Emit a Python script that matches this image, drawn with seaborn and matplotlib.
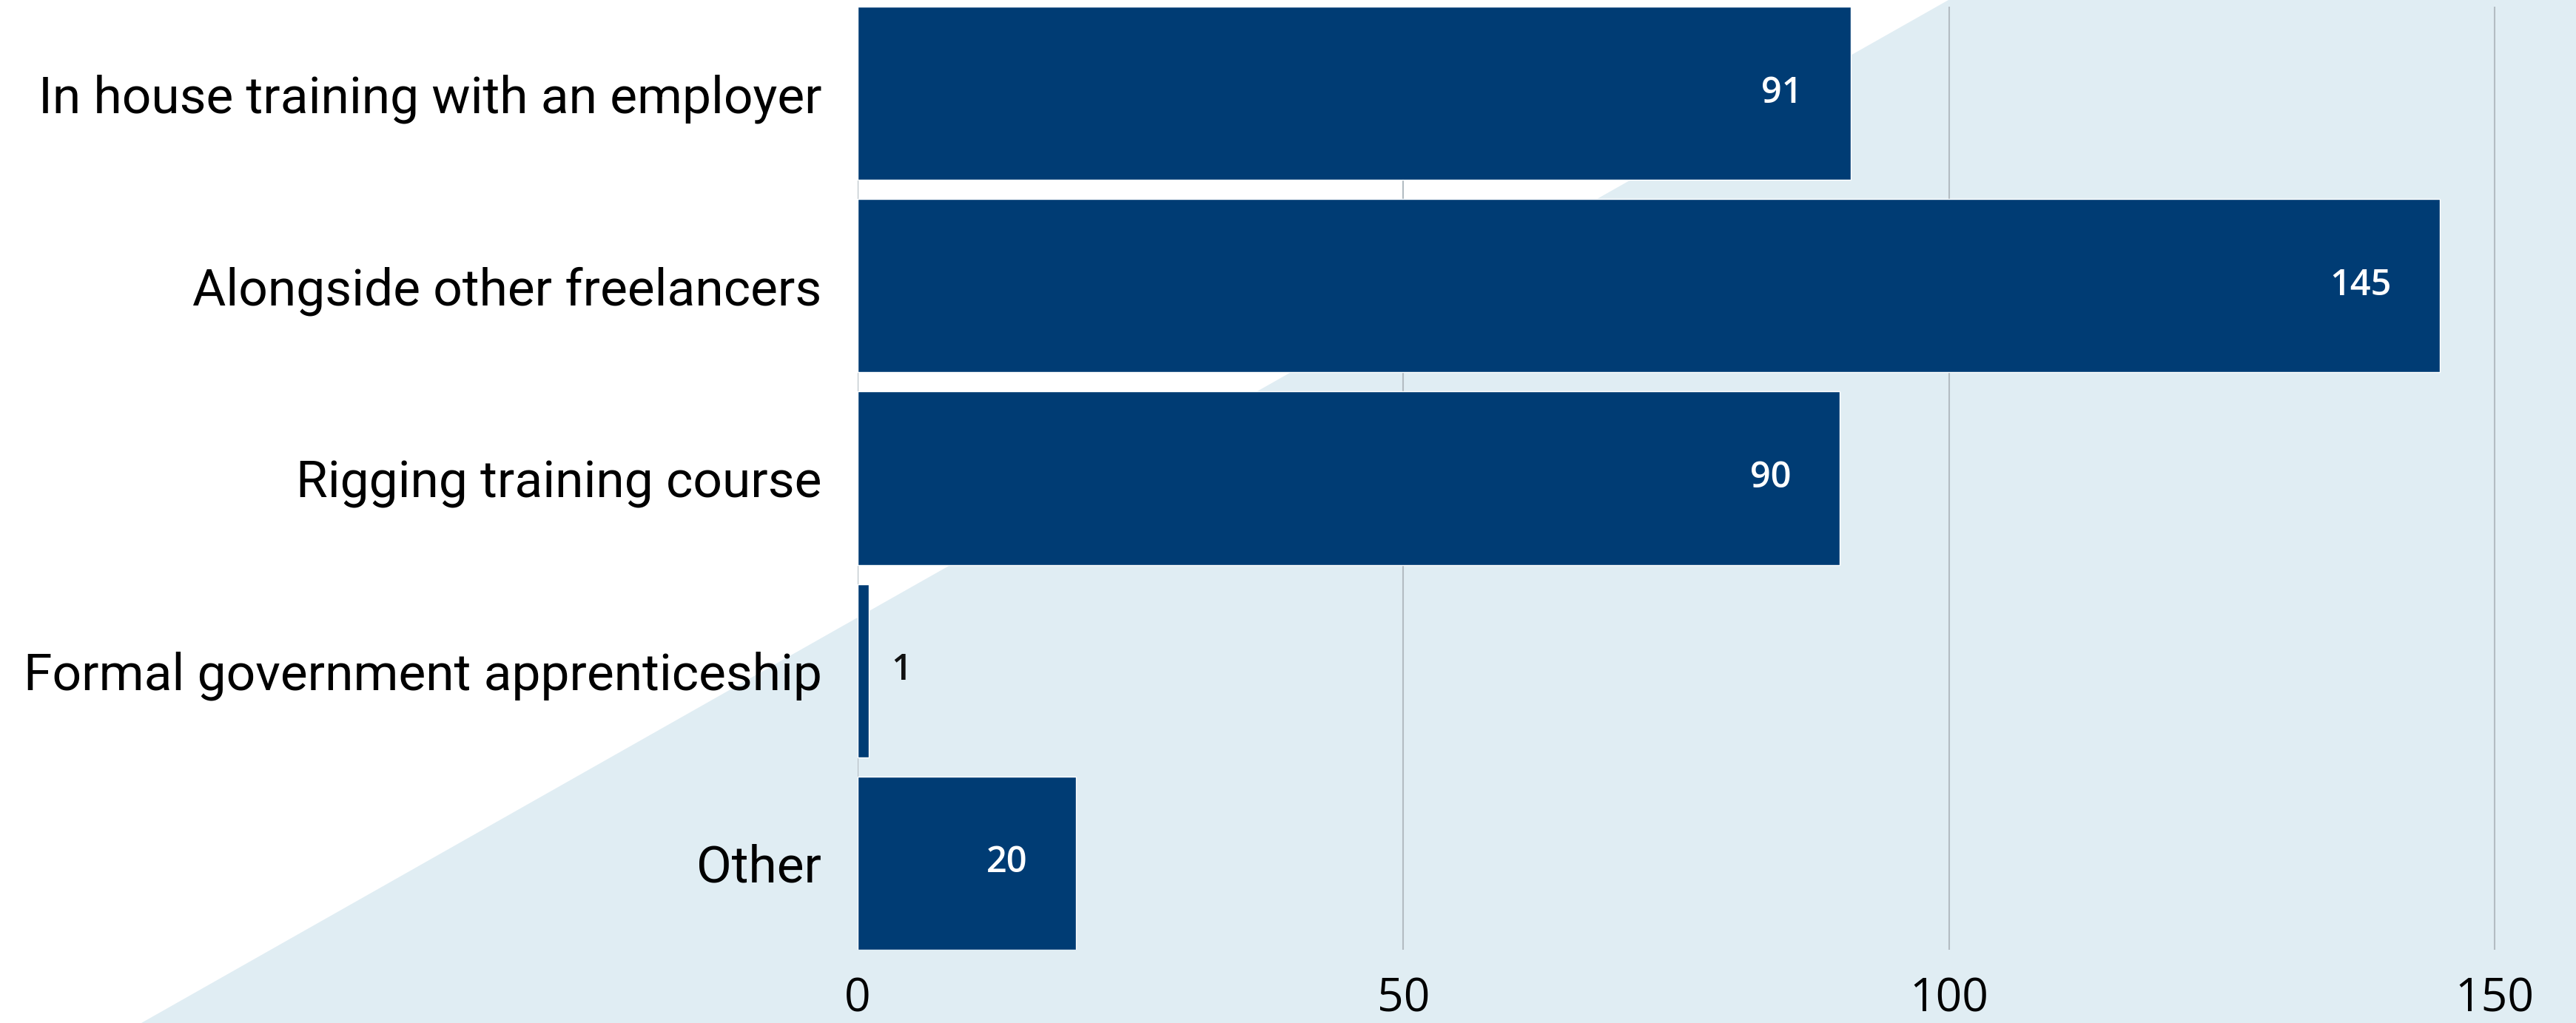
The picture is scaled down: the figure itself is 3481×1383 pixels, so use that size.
import matplotlib
matplotlib.use("Agg")
import matplotlib.pyplot as plt
from matplotlib.patches import Polygon
import seaborn as sns
import pandas as pd

# ── Data ──────────────────────────────────────────────────────────────
categories = [
    "In house training with an employer",
    "Alongside other freelancers",
    "Rigging training course",
    "Formal government apprenticeship",
    "Other",
]
counts = [91, 145, 90, 1, 20]
x_ticks = [0, 50, 100, 150]

df = pd.DataFrame({"category": categories, "count": counts})

# ── Style ─────────────────────────────────────────────────────────────
sns.set_style("white")
plt.rcParams["font.family"] = ["Open Sans", "DejaVu Sans"]

BAR = "#003c74"
BG = "#e0edf3"
GRID = "#b3bcc2"

W, H = 3481, 1383
fig = plt.figure(figsize=(W / 100, H / 100), dpi=100)
fig.patch.set_facecolor("white")

# light-blue diagonal backdrop
bg = Polygon([(191 / W, 0), (2633 / W, 1), (1, 1), (1, 0)], closed=True,
             transform=fig.transFigure, facecolor=BG, edgecolor="none", zorder=-5)
fig.patches.append(bg)

ax = fig.add_axes([1159 / W, 1 - 1284 / H, 1 - 1159 / W, (1284 - 9) / H])
ax.set_facecolor("none")
ax.set_zorder(1)

sns.barplot(data=df, x="count", y="category", orient="h", color=BAR,
            saturation=1, width=0.9, ax=ax, zorder=3)

ax.set_xlim(0, 157.46)
ax.set_ylim(4.45, -0.45)
ax.set_xticks(x_ticks)
ax.set_xlabel("")
ax.set_ylabel("")
ax.set_axisbelow(True)
ax.xaxis.grid(True, color=GRID, linewidth=1.5)
ax.yaxis.grid(False)
for s in ax.spines.values():
    s.set_visible(False)

ax.tick_params(axis="x", length=0, pad=26, labelsize=45, labelcolor="black")
ax.tick_params(axis="y", length=0, pad=35, labelsize=50, labelcolor="black")
for lbl in ax.get_yticklabels():
    lbl.set_family(["Roboto", "DejaVu Sans"])

# ── Value labels ──────────────────────────────────────────────────────
for i, v in enumerate(counts):
    if v >= 10:
        ax.annotate(str(v), (v, i), xytext=(-47, 0), textcoords="offset points",
                    ha="right", va="center", color="white", fontsize=35,
                    fontweight="semibold", zorder=4)
    else:
        ax.annotate(str(v), (v, i), xytext=(22, 0), textcoords="offset points",
                    ha="left", va="center", color="#111111", fontsize=35,
                    fontweight="semibold", zorder=4)

fig.savefig("out.png", dpi=100, facecolor=fig.get_facecolor())
